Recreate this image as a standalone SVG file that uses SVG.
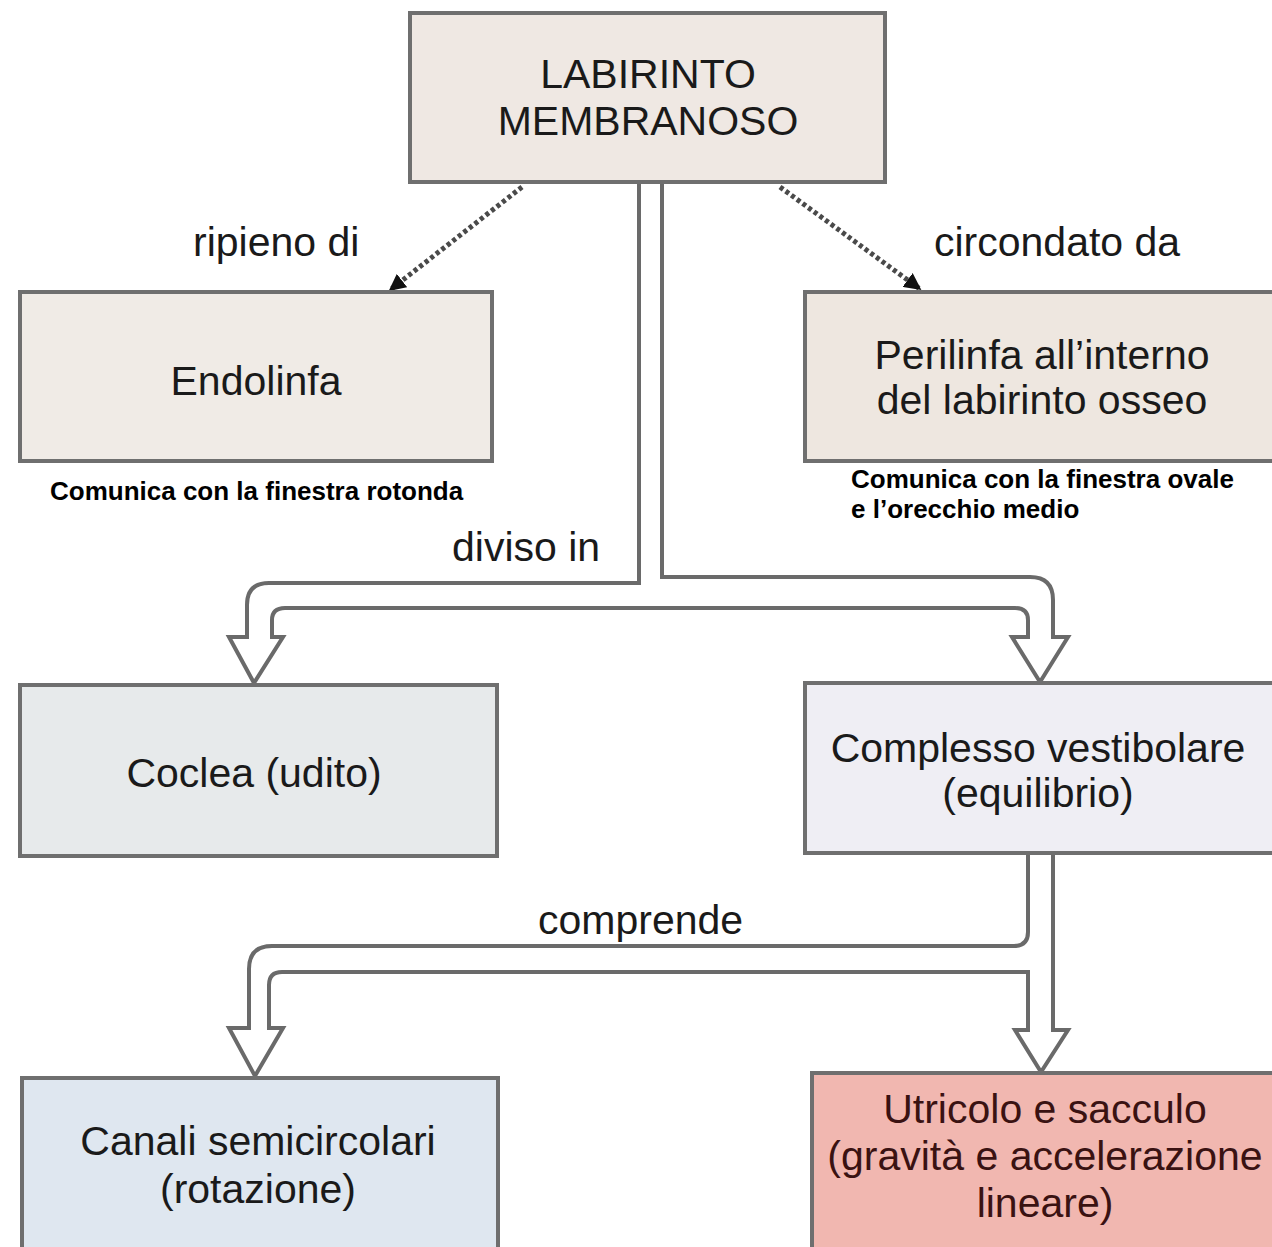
<svg xmlns="http://www.w3.org/2000/svg" width="1272" height="1247" viewBox="0 0 1272 1247">
<defs>
<style>
.box{stroke:#6f6f6f;stroke-width:4}
.t{font-family:"Liberation Sans",Arial,sans-serif;font-size:41px;fill:#1a1a1a;text-anchor:middle}
.lab{font-family:"Liberation Sans",Arial,sans-serif;font-size:41px;fill:#1a1a1a}
.note{font-family:"Liberation Sans",Arial,sans-serif;font-size:26px;font-weight:bold;fill:#000}
.tube{fill:none;stroke:#6a6a6a;stroke-width:4;stroke-linejoin:miter}
.dot{stroke:#4a4a4a;stroke-width:5;stroke-dasharray:4 3;fill:none}
</style>
<marker id="ah" viewBox="0 0 10 10" refX="9" refY="5" markerWidth="3.4" markerHeight="3.4" orient="auto" markerUnits="strokeWidth">
<path d="M0,0 L10,5 L0,10 z" fill="#111"/>
</marker>
</defs>
<rect width="1272" height="1247" fill="#fff"/>

<g id="connectors">
<line class="dot" x1="522" y1="187" x2="390" y2="290" marker-end="url(#ah)"/>
<line class="dot" x1="780" y1="187" x2="920" y2="289" marker-end="url(#ah)"/>
<path class="tube" d="M639,183 V583 H269 Q247,583 247,605 V637 H229 L254,683 L283,637 H272 V620 Q272,608 285,608 H1015 Q1028,608 1028,620 V637 H1012 L1040,682 L1068,637 H1053 V600 Q1053,577 1030,577 H662 V183"/>
<path class="tube" d="M1028,853 V932 Q1028,946 1014,946 H272 Q249,946 249,969 V1028 H229 L255,1076 L283,1028 H269 V985 Q269,972 282,972 H1028 V1030 H1015 L1041,1072 L1068,1030 H1053 V853"/>
<text class="lab" x="193" y="256">ripieno di</text>
<text class="lab" x="934" y="256">circondato da</text>
<text class="lab" x="452" y="561">diviso in</text>
<text class="lab" x="538" y="934">comprende</text>
</g>

<g id="labirinto">
<rect class="box" x="410" y="13" width="475" height="169" fill="#efe8e3"/>
<text class="t" x="648" y="88">LABIRINTO</text>
<text class="t" x="648" y="135">MEMBRANOSO</text>
</g>

<g id="endolinfa">
<rect class="box" x="20" y="292" width="472" height="169" fill="#f0ebe6"/>
<text class="t" x="256" y="395">Endolinfa</text>
<text class="note" x="50" y="500">Comunica con la finestra rotonda</text>
</g>

<g id="perilinfa">
<rect class="box" x="805" y="292" width="480" height="169" fill="#eee7e0"/>
<text class="t" x="1042" y="369">Perilinfa all’interno</text>
<text class="t" x="1042" y="414">del labirinto osseo</text>
<text class="note" x="851" y="488">Comunica con la finestra ovale</text>
<text class="note" x="851" y="518">e l’orecchio medio</text>
</g>

<g id="coclea">
<rect class="box" x="20" y="685" width="477" height="171" fill="#e7eaeb"/>
<text class="t" x="254" y="787">Coclea (udito)</text>
</g>

<g id="complesso">
<rect class="box" x="805" y="683" width="480" height="170" fill="#efeef4"/>
<text class="t" x="1038" y="762">Complesso vestibolare</text>
<text class="t" x="1038" y="807">(equilibrio)</text>
</g>

<g id="canali">
<rect class="box" x="22" y="1078" width="476" height="190" fill="#dfe7f0"/>
<text class="t" x="258" y="1155">Canali semicircolari</text>
<text class="t" x="258" y="1203">(rotazione)</text>
</g>

<g id="utricolo">
<rect class="box" x="812" y="1073" width="480" height="195" fill="#f1b7b0" stroke="#6a4a4a"/>
<text class="t" x="1045" y="1123" style="fill:#3a1212">Utricolo e sacculo</text>
<text class="t" x="1045" y="1170" style="fill:#3a1212">(gravità e accelerazione</text>
<text class="t" x="1045" y="1217" style="fill:#3a1212">lineare)</text>
</g>
</svg>
